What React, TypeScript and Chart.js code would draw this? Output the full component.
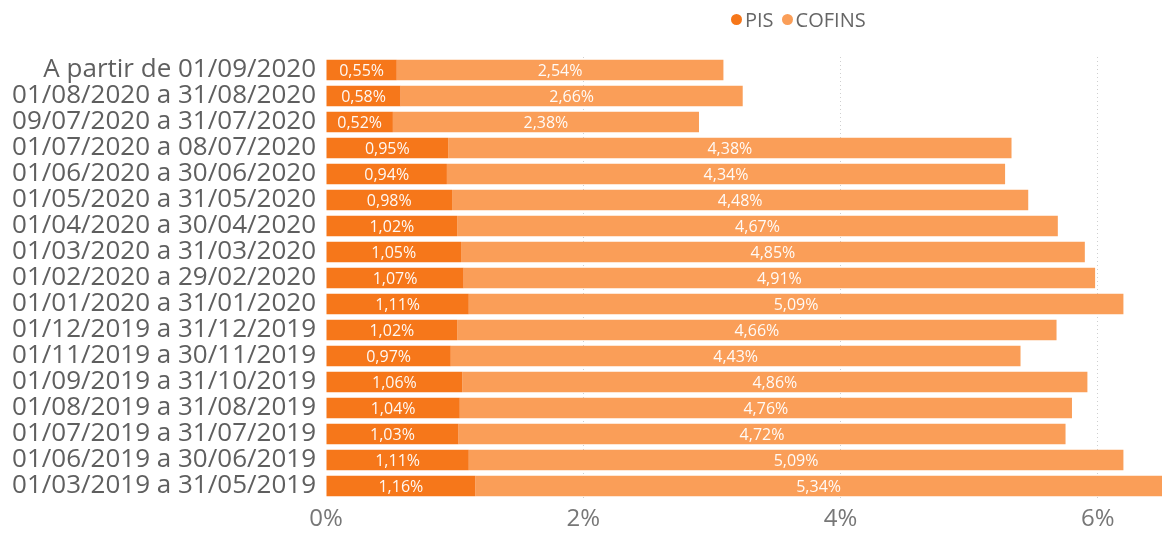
import React, { useEffect, useRef } from "react";
import { Chart, registerables } from "chart.js";

Chart.register(...registerables);

const categories = [
  "A partir de 01/09/2020",
  "01/08/2020 a 31/08/2020",
  "09/07/2020 a 31/07/2020",
  "01/07/2020 a 08/07/2020",
  "01/06/2020 a 30/06/2020",
  "01/05/2020 a 31/05/2020",
  "01/04/2020 a 30/04/2020",
  "01/03/2020 a 31/03/2020",
  "01/02/2020 a 29/02/2020",
  "01/01/2020 a 31/01/2020",
  "01/12/2019 a 31/12/2019",
  "01/11/2019 a 30/11/2019",
  "01/09/2019 a 31/10/2019",
  "01/08/2019 a 31/08/2019",
  "01/07/2019 a 31/07/2019",
  "01/06/2019 a 30/06/2019",
  "01/03/2019 a 31/05/2019",
];

const pisValues = [0.55, 0.58, 0.52, 0.95, 0.94, 0.98, 1.02, 1.05, 1.07, 1.11, 1.02, 0.97, 1.06, 1.04, 1.03, 1.11, 1.16];
const cofinsValues = [2.54, 2.66, 2.38, 4.38, 4.34, 4.48, 4.67, 4.85, 4.91, 5.09, 4.66, 4.43, 4.86, 4.76, 4.72, 5.09, 5.34];

const xTicks = [0, 2, 4, 6];

const PIS_COLOR = "#F6771A";
const COFINS_COLOR = "#FA9E58";
const FONT = "'Open Sans', 'Noto Sans', sans-serif";

const fmt = (v: number) => v.toFixed(2).replace(".", ",") + "%";

const labelPlugin = {
  id: "barLabels",
  afterDatasetsDraw(chart: any) {
    const ctx = chart.ctx;
    ctx.save();
    ctx.fillStyle = "rgba(255,255,255,0.95)";
    ctx.font = `16px ${FONT}`;
    ctx.textAlign = "center";
    ctx.textBaseline = "middle";
    chart.data.datasets.forEach((ds: any, di: number) => {
      const meta = chart.getDatasetMeta(di);
      meta.data.forEach((bar: any, i: number) => {
        const left = Math.min(bar.x, bar.base);
        const right = Math.min(Math.max(bar.x, bar.base), chart.chartArea.right);
        ctx.fillText(fmt(ds.data[i]), (left + right) / 2, bar.y + 1);
      });
    });
    ctx.restore();
  },
};

export default function App() {
  const ref = useRef<HTMLCanvasElement | null>(null);

  useEffect(() => {
    if (!ref.current) return;
    const chart = new Chart(ref.current, {
      type: "bar",
      data: {
        labels: categories,
        datasets: [
          { label: "PIS", data: pisValues, backgroundColor: PIS_COLOR, borderWidth: 0 },
          { label: "COFINS", data: cofinsValues, backgroundColor: COFINS_COLOR, borderWidth: 0 },
        ],
      },
      options: {
        indexAxis: "y",
        animation: false,
        responsive: false,
        maintainAspectRatio: false,
        datasets: { bar: { categoryPercentage: 1, barPercentage: 0.78 } },
        layout: { padding: { top: 57, left: 0, right: 0, bottom: 0 } },
        plugins: {
          legend: { display: false },
          tooltip: { enabled: false },
        },
        scales: {
          x: {
            stacked: true,
            min: 0,
            max: 6.5,
            afterBuildTicks: (scale: any) => {
              scale.ticks = xTicks.map((v) => ({ value: v }));
            },
            afterFit: (scale: any) => {
              scale.height = 38;
            },
            grid: {
              drawTicks: false,
              color: (c: any) => (c.tick && c.tick.value === 0 ? "rgba(0,0,0,0)" : "#cfcfcf"),
              lineWidth: 1,
            },
            border: { display: false, dash: [1, 3] },
            ticks: {
              padding: 6,
              color: "#777777",
              font: { size: 24, family: FONT },
              callback: (v: any) => v + "%",
            },
          } as any,
          y: {
            stacked: true,
            afterFit: (scale: any) => {
              scale.width = 326;
            },
            grid: { display: false, drawTicks: false },
            border: { display: false },
            ticks: {
              autoSkip: false,
              padding: 10,
              color: "#5f5f5f",
              font: { size: 26, family: FONT },
            },
          },
        },
      } as any,
      plugins: [labelPlugin],
    });
    return () => chart.destroy();
  }, []);

  const dot = (color: string) => ({
    display: "inline-block",
    width: 11,
    height: 11,
    borderRadius: "50%",
    background: color,
    marginRight: 3,
    verticalAlign: "middle",
  });

  return (
    <div style={{ position: "fixed", left: 0, top: 0, width: 1162, height: 537, background: "#fff" }}>
      <div
        style={{
          position: "absolute",
          left: 731,
          top: 5,
          fontFamily: FONT,
          fontSize: 20,
          color: "#666",
          lineHeight: "26px",
          whiteSpace: "nowrap",
        }}
      >
        <span style={dot(PIS_COLOR)} />
        <span style={{ verticalAlign: "middle", marginRight: 8 }}>PIS</span>
        <span style={dot(COFINS_COLOR)} />
        <span style={{ verticalAlign: "middle" }}>COFINS</span>
      </div>
      <canvas ref={ref} width={1162} height={537} style={{ display: "block" }} />
    </div>
  );
}
